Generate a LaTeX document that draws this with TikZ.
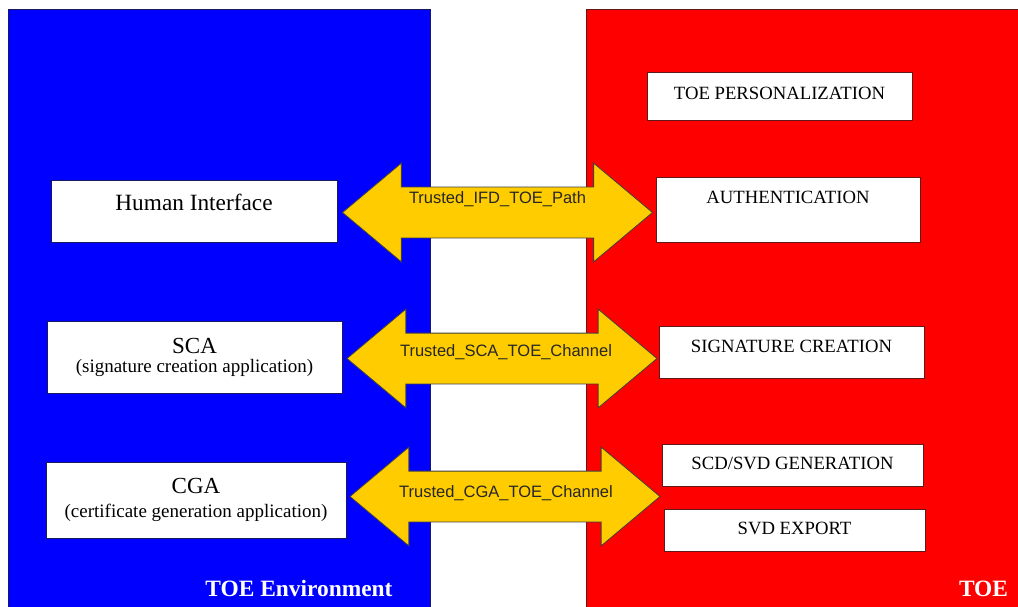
\documentclass[tikz,border=0pt]{standalone}
\usepackage{fontspec}
\setmainfont{Liberation Serif}
\newfontfamily\arialfont{Liberation Sans}
\usetikzlibrary{shapes.arrows}
\definecolor{envblue}{RGB}{0,0,255}
\definecolor{toered}{RGB}{255,0,0}
\definecolor{pathgold}{RGB}{255,204,0}
\definecolor{navyline}{RGB}{25,25,95}
\definecolor{maroonline}{RGB}{95,25,25}

\begin{document}
\begin{tikzpicture}[
  x=1pt, y=-1pt,
  panel/.style={line width=1pt},
  envbox/.style={draw=navyline, fill=white, line width=1pt, inner sep=0pt, align=center},
  toebox/.style={draw=maroonline, fill=white, line width=1pt, inner sep=0pt, anchor=base, font=\fontsize{18.7}{22}\selectfont},
  channel/.style={double arrow, draw=black!75, fill=pathgold, line width=0.8pt, inner xsep=0pt, inner ysep=25pt,
    minimum height=310pt, double arrow head extend=24pt, double arrow tip angle=80},
  chanlabel/.style={font=\arialfont\fontsize{16.5}{19}\selectfont, text=black!85, inner sep=0pt},
  sidelabel/.style={font=\bfseries\fontsize{23.4}{27}\selectfont, text=white, anchor=base, inner sep=0pt}
]
\useasboundingbox (0,0) rectangle (1018,607);
\clip (0,0) rectangle (1018,607);
\fill[white] (0,0) rectangle (1018,607);
\draw[panel, draw=navyline, fill=envblue] (8,10) rectangle (430,612);
\draw[panel, draw=maroonline, fill=toered] (586,10) rectangle (1024,612);

\node[sidelabel] (envlabel) at (299,596) {TOE Environment};
\node[sidelabel] (toelabel) at (983.5,596) {TOE};

\node[envbox, anchor=base, text height=29.7pt, text depth=31.3pt, minimum width=286pt,
  font=\fontsize{23.3}{27}\selectfont] (human) at (194,210.7) {Human Interface};
\node[envbox, minimum width=295pt, minimum height=72pt, font=\fontsize{19}{22}\selectfont] (sca) at (194.5,357)
  {{\fontsize{23}{23}\selectfont SCA}\\[-3pt](signature creation application)};
\node[envbox, minimum width=300pt, minimum height=76pt, font=\fontsize{19}{22}\selectfont] (cga) at (196,500)
  {{\fontsize{23}{23}\selectfont CGA}\\[2pt](certificate generation application)};

\node[toebox, text height=26.2pt, text depth=21.8pt, minimum width=265pt] (perso) at (779.5,99.2) {TOE PERSONALIZATION};
\node[toebox, text height=25.2pt, text depth=38.8pt, minimum width=264pt] (auth) at (788,203.2) {AUTHENTICATION};
\node[toebox, text height=26.2pt, text depth=25.8pt, minimum width=265pt] (sigcreate) at (791.5,352.2) {SIGNATURE CREATION};
\node[toebox, text height=25.2pt, text depth=16.8pt, minimum width=261pt] (keygen) at (792.5,469.2) {SCD/SVD GENERATION};
\node[toebox, text height=25.2pt, text depth=16.8pt, minimum width=261pt] (svdexport) at (794.5,534.2) {SVD EXPORT};

\node[channel] (ifdpath) at (497.5,212.5) {};
\node[channel] (scachan) at (502,358.5) {};
\node[channel] (cgachan) at (505,496.5) {};
\node[chanlabel] (ifdtext) at ([yshift=13.5pt]ifdpath.center) {Trusted\_IFD\_TOE\_Path};
\node[chanlabel] (scatext) at ([xshift=4pt, yshift=6.5pt]scachan.center) {Trusted\_SCA\_TOE\_Channel};
\node[chanlabel] (cgatext) at ([xshift=1pt, yshift=3.5pt]cgachan.center) {Trusted\_CGA\_TOE\_Channel};
\end{tikzpicture}
\end{document}
